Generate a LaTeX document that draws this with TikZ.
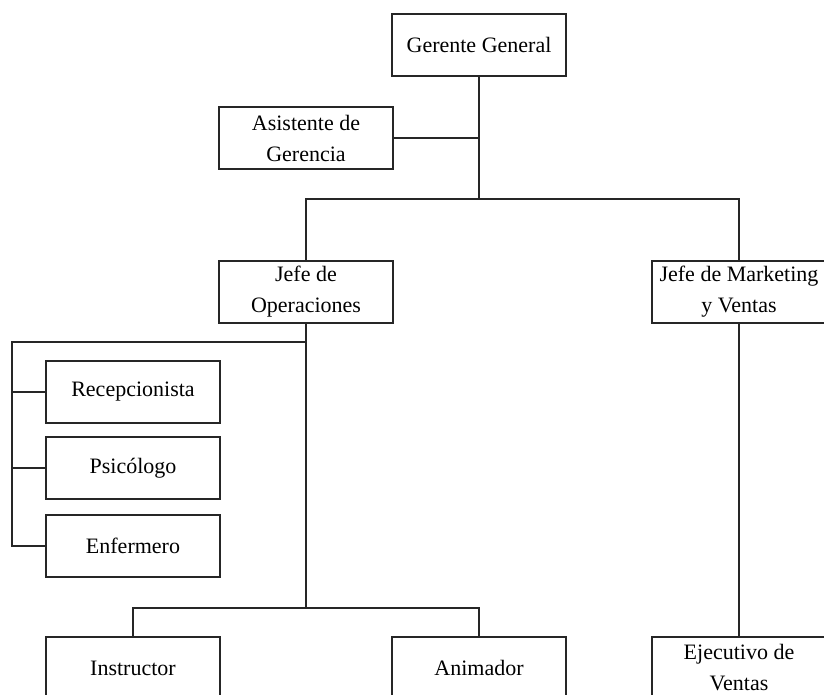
\documentclass[tikz,border=0pt]{standalone}
\usepackage{fontspec}
\setmainfont{Liberation Serif}
\usetikzlibrary{positioning}

\begin{document}
\begin{tikzpicture}[
        x=0.75pt, y=-0.75pt,
        box/.style={draw=black!85, line width=0.9pt, align=center, minimum width=174*0.75pt,
            minimum height=62*0.75pt, inner sep=0pt, font=\fontsize{16.5}{23.25}\selectfont},
        link/.style={draw=black!85, line width=0.9pt}
    ]
        % Page area
        \useasboundingbox (0,0) rectangle (824,695);
        \clip (0,0) rectangle (824,695);

        % Top level
        \node[box] (gerente) at (479,45) {Gerente General};
        \node[box] (asistente) at (306,138) {Asistente de\\ Gerencia};

        % Heads
        \node[box] (jefeop) at (306,292) {Jefe de\\ Operaciones};
        \node[box] (jefemk) at (739,292) {Jefe de Marketing\\ y Ventas};

        % Staff under operations
        \node[box] (recep) at (133,392) {Recepcionista};
        \node[box] (psico) at (133,468) {Psicólogo};
        \node[box] (enfer) at (133,546) {Enfermero};
        \node[box] (instr) at (133,668) {Instructor};
        \node[box] (anim) at (479,668) {Animador};
        \node[box] (ejec) at (739,668) {Ejecutivo de\\ Ventas};

        % Bus points
        \coordinate (topbus) at (479,199);
        \coordinate (opbus) at (306,342);
        \coordinate (rail) at (12,342);
        \coordinate (lowbus) at (306,608);

        % Connectors
        \draw[link] (gerente.south) -- (topbus);
        \draw[link] (asistente.east) -- (asistente.east -| gerente.south);
        \draw[link] (jefeop.north) |- (topbus) -| (jefemk.north);
        \draw[link] (jefeop.south) -- (lowbus);
        \draw[link] (opbus) -- (rail) |- (enfer.west);
        \draw[link] (recep.west) -- (recep.west -| rail);
        \draw[link] (psico.west) -- (psico.west -| rail);
        \draw[link] (instr.north) |- (lowbus) -| (anim.north);
        \draw[link] (jefemk.south) -- (ejec.north);
    \end{tikzpicture}
\end{document}
